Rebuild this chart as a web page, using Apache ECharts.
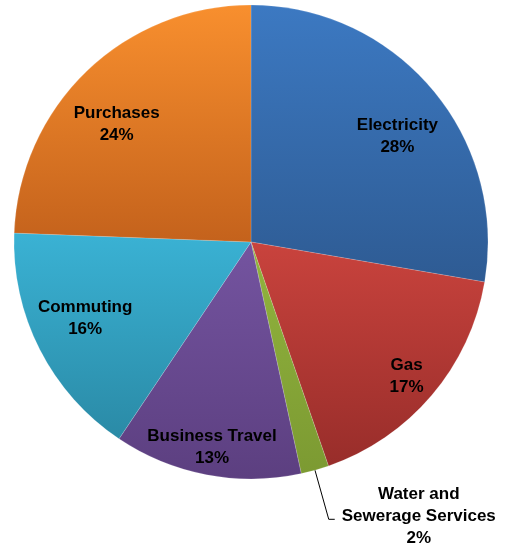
<!DOCTYPE html>
<html>
<head>
<meta charset="utf-8">
<script src="https://cdn.jsdelivr.net/npm/echarts@6/dist/echarts.min.js"></script>
<style>
html,body{margin:0;padding:0;background:#fff;}
#chart{width:506px;height:550px;}
</style>
</head>
<body>
<div id="chart"></div>
<script>
// Data
var categories = ['Electricity', 'Gas', 'Water and Sewerage Services', 'Business Travel', 'Commuting', 'Purchases'];
var values = [27.7, 17.0, 1.9, 12.8, 16.2, 24.4];
var labelNames = ['Electricity', 'Gas', 'Water and\nSewerage Services', 'Business Travel', 'Commuting', 'Purchases'];

// styling
var topColors = ['#3c79c2', '#c9433d', '#92b43e', '#7454a0', '#3ab2d4', '#f88f2e'];
var bottomColors = ['#2e5b93', '#982d2a', '#7c9a32', '#5c3f80', '#2a8aa6', '#c4621c'];
// which inside-label ring each slice uses (0 = nearer, 1 = farther, -1 = outside label)
var labelRing = [0, 1, -1, 1, 0, 0];
// small nudges of the label text (Excel best-fit placement)
var labelNudge = [[5, 14], [-3, 0], [2, -3], [0, 1], [-1, -8], [-6, 16]];

var FONT = 'Liberation Sans, Arial, sans-serif';

function grad(i) {
  return new echarts.graphic.LinearGradient(0, 0, 0, 1, [
    { offset: 0, color: topColors[i] },
    { offset: 1, color: bottomColors[i] }
  ]);
}

var mainData = categories.map(function (c, i) {
  var item = { name: c, value: values[i], itemStyle: { color: grad(i) } };
  if (labelRing[i] === -1) {
    item.label = {
      show: true,
      position: 'outside',
      offset: labelNudge[i],
      formatter: function (p) {
        var lines = labelNames[p.dataIndex].split('\n').concat([Math.round(p.percent) + '%']);
        return lines.map(function (l) { return '{c|' + l + '}'; }).join('\n');
      },
      rich: {
        c: { align: 'center', fontFamily: FONT, fontWeight: 'bold', fontSize: 17, color: '#000', lineHeight: 22 }
      }
    };
    item.labelLine = { show: true };
  }
  return item;
});

function overlay(ring, radius) {
  return {
    type: 'pie',
    center: [251, 242],
    radius: radius,
    startAngle: 90,
    clockwise: true,
    avoidLabelOverlap: false,
    silent: true,
    itemStyle: { color: 'rgba(0,0,0,0)' },
    label: {
      position: 'inside',
      formatter: function (p) {
        return labelNames[p.dataIndex] + '\n' + Math.round(p.percent) + '%';
      },
      fontFamily: FONT,
      fontWeight: 'bold',
      fontSize: 17,
      lineHeight: 22,
      color: '#000',
      align: 'center'
    },
    labelLine: { show: false },
    data: categories.map(function (c, i) {
      return { name: c, value: values[i], label: { show: labelRing[i] === ring, offset: labelNudge[i] } };
    })
  };
}

var chart = echarts.init(document.getElementById('chart'));
chart.setOption({
  animation: false,
  series: [
    {
      type: 'pie',
      center: [251, 242],
      radius: [0, 237],
      startAngle: 90,
      clockwise: true,
      avoidLabelOverlap: false,
      silent: true,
      itemStyle: { borderColor: 'rgba(255,255,255,0.25)', borderWidth: 0.6 },
      label: { show: false },
      labelLine: {
        show: false,
        length: 51,
        length2: 6,
        smooth: false,
        lineStyle: { color: '#000', width: 1 }
      },
      data: mainData
    },
    overlay(0, [127, 237]),
    overlay(1, [173, 237])
  ]
});
</script>
</body>
</html>
